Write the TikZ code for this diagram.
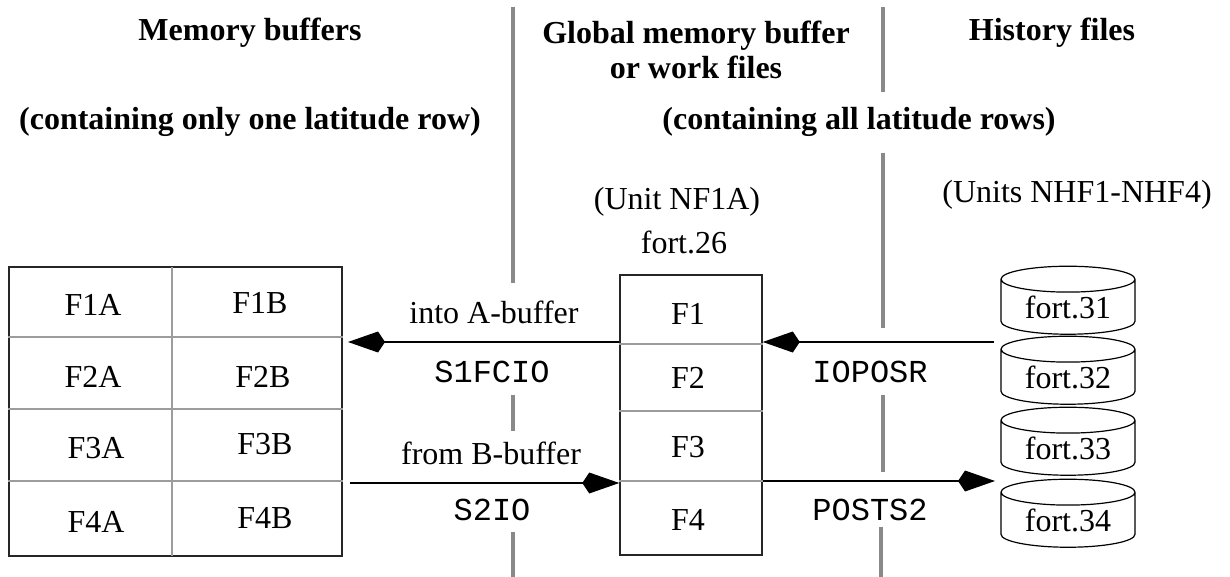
\documentclass[tikz,border=0pt]{standalone}
\usepackage{fontspec}
\setmainfont{Liberation Serif}
\setmonofont{Liberation Mono}
\usepackage{xcolor}
\usepackage{tikz}
\usetikzlibrary{positioning, arrows.meta, shapes.geometric}
\definecolor{divgray}{HTML}{898989}
\definecolor{rowgray}{HTML}{9C9C9C}
\tikzset{
    txt/.style={
        font=\fontsize{32pt}{35pt}\selectfont,
        inner sep=0pt
    },
    titletxt/.style={
        font=\fontsize{32pt}{35pt}\selectfont\bfseries,
        inner sep=0pt,
        align=center
    },
    codetxt/.style={
        font=\fontsize{32pt}{35pt}\selectfont\ttfamily,
        inner sep=0pt
    },
    bufbox/.style={
        draw=black!85,
        line width=1.5pt,
        rectangle,
        inner sep=0pt
    },
    rowline/.style={
        rowgray,
        line width=1.2pt
    },
    divider/.style={
        divgray,
        line width=4.5pt
    },
    flow/.style={
        line width=1.3pt,
        -{Kite[length=37pt,width=21pt,inset=7pt]}
    },
    histfile/.style={
        cylinder,
        shape border rotate=90,
        aspect=0.3,
        draw,
        line width=1.2pt,
        minimum width=134pt,
        minimum height=68pt,
        inner sep=0pt,
        font=\fontsize{32pt}{35pt}\selectfont
    }
}

\begin{document}
\begin{tikzpicture}[x=1pt, y=-1pt]

\useasboundingbox (0,0) rectangle (1230,577);

%---------------- Titles ----------------

\node[titletxt] (memtitle) at (250,33) {Memory buffers};
\node[titletxt] (memsub) at (250,122) {(containing only one latitude row)};
\node[titletxt] (globtitle) at (696,50) {Global memory buffer\\or work files};
\node[titletxt] (histtitle) at (1052,33) {History files};
\node[titletxt] (allsub) at (859,122) {(containing all latitude rows)};

%---------------- Dividers ----------------

\draw[divider] (513,7)--(513,283);
\draw[divider] (513,395)--(513,431);
\draw[divider] (513,532)--(513,577);

\draw[divider] (883,7)--(883,92);
\draw[divider] (883,153)--(883,328);
\draw[divider] (883,395)--(883,472);
\draw[divider] (881,527)--(881,577);

%---------------- Memory buffers ----------------

\node[bufbox, minimum width=333pt, minimum height=289pt] (mem) at (175.5,411.5) {};

\draw[rowline] (172,267)--(172,556);
\draw[rowline] (mem.west |- 0,337)--(mem.east |- 0,337);
\draw[rowline] (mem.west |- 0,409)--(mem.east |- 0,409);
\draw[rowline] (mem.west |- 0,481)--(mem.east |- 0,481);

\node[txt] (f1a) at (93,305) {F1A};
\node[txt] (f1b) at (260,303) {F1B};
\node[txt] (f2a) at (93,377) {F2A};
\node[txt] (f2b) at (263,377) {F2B};
\node[txt] (f3a) at (96,448) {F3A};
\node[txt] (f3b) at (265,444) {F3B};
\node[txt] (f4a) at (96,522) {F4A};
\node[txt] (f4b) at (265,518) {F4B};

%---------------- Global buffer ----------------

\node[txt] (unit) at (677,202) {(Unit NF1A)};
\node[txt] (fort26) at (684,242) {fort.26};

\node[bufbox, minimum width=142pt, minimum height=280pt] (glob) at (691,415) {};

\draw[rowline] (glob.west |- 0,344)--(glob.east |- 0,344);
\draw[rowline] (glob.west |- 0,411)--(glob.east |- 0,411);
\draw[rowline] (glob.west |- 0,481)--(glob.east |- 0,481);

\node[txt] (g1) at (688,314) {F1};
\node[txt] (g2) at (688,378) {F2};
\node[txt] (g3) at (688,447) {F3};
\node[txt] (g4) at (688,520) {F4};

%---------------- History files ----------------

\node[txt] (units) at (1077,195) {(Units NHF1-NHF4)};

\node[histfile] (h1) at (1068,307) {fort.31};
\node[histfile] (h2) at (1068,377) {fort.32};
\node[histfile] (h3) at (1068,448) {fort.33};
\node[histfile] (h4) at (1068,520) {fort.34};

%---------------- Transfers ----------------

\coordinate (intoA) at (348,342);
\coordinate (fromB) at (350,483);
\coordinate (readH) at (994,342);
\coordinate (writeH) at (995,481);

\draw[flow] (glob.west |- intoA)--(intoA);
\draw[flow] (fromB)--(glob.west |- fromB);
\draw[flow] (readH)--(glob.east |- readH);
\draw[flow] (glob.east |- writeH)--(writeH);

\node[txt] (intoAtxt) at (494,312) {into A-buffer};
\node[codetxt] (s1fcio) at (492,372) {S1FCIO};
\node[txt] (fromBtxt) at (491,453) {from B-buffer};
\node[codetxt] (s2io) at (492,510) {S2IO};
\node[codetxt] (ioposr) at (870,372) {IOPOSR};
\node[codetxt] (posts2) at (870,510) {POSTS2};

\end{tikzpicture}
\end{document}
